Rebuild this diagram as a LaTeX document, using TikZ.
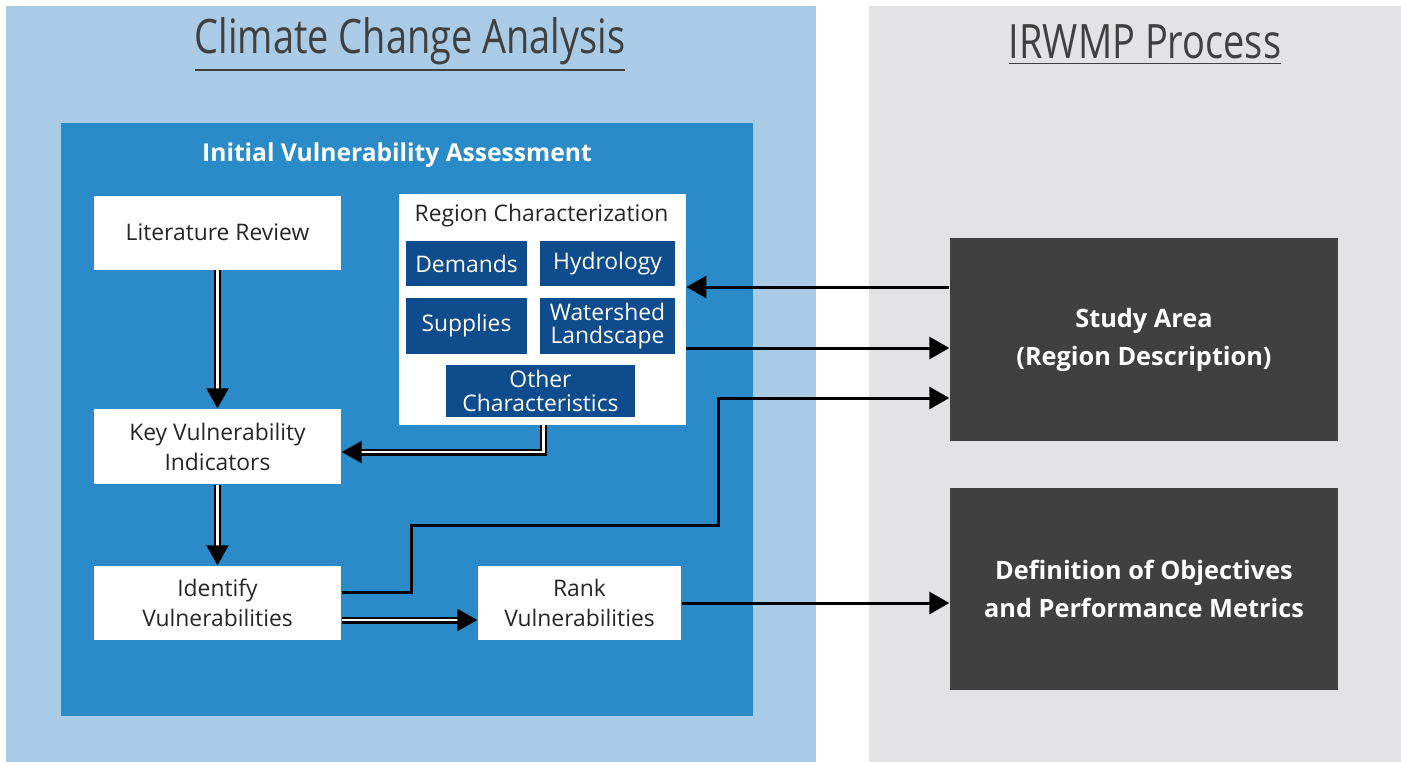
\documentclass[tikz,border=0pt]{standalone}
\usepackage{fontspec}
\setmainfont{Open Sans}
\newfontfamily\ttlfont[FakeStretch=0.8]{Open Sans}
\usepackage{xcolor}
\usetikzlibrary{arrows.meta,positioning,calc}

\definecolor{paleblue}{HTML}{AACBE5}
\definecolor{palegrey}{HTML}{E3E2E5}
\definecolor{midblue}{HTML}{2B8BC9}
\definecolor{rcblue}{HTML}{0F4C8D}
\definecolor{slate}{HTML}{404040}

\begin{document}
\begin{tikzpicture}[
    panel/.style={rectangle,anchor=north west,inner sep=0pt},
    ttl/.style={font=\ttlfont\fontsize{13.5}{16}\selectfont,text=black!75},
    wbox/.style={rectangle,fill=white,minimum width=2.47cm,minimum height=0.74cm,align=center,font=\fontsize{6.5}{8.5}\selectfont,text=black!85,inner sep=1pt},
    sub/.style={rectangle,fill=rcblue,text=white,align=center,font=\fontsize{6.5}{6.8}\selectfont,inner sep=0pt},
    dbox/.style={rectangle,fill=slate,text=white,minimum width=3.88cm,minimum height=2.03cm,align=center,font=\bfseries\fontsize{7.2}{10.8}\selectfont},
    arr/.style={-{Triangle[length=2mm,width=2.2mm]},line width=0.85pt,black},
    dbl/.style={-{Triangle[length=2mm,width=2.2mm]},draw=black,double=white,double distance=0.8pt,line width=0.6pt},
]
\useasboundingbox (0,0) rectangle (14.01,-7.61);

% the two columns
\node[panel,fill=paleblue,minimum width=8.10cm,minimum height=7.56cm] (cca) at (0.05,-0.05) {};
\node[panel,fill=palegrey,minimum width=5.33cm,minimum height=7.56cm] (irwmp) at (8.68,-0.05) {};
\node[ttl] (ccattl) at (4.10,-0.45) {\underline{Climate Change Analysis}};
\node[ttl] (irttl) at (11.45,-0.45) {\underline{IRWMP Process}};

% initial vulnerability assessment
\node[panel,fill=midblue,minimum width=6.92cm,minimum height=5.93cm] (iva) at (0.60,-1.22) {};
\node[text=white,font=\bfseries\fontsize{7}{9}\selectfont] (ivattl) at (3.97,-1.55) {Initial Vulnerability Assessment};

\node[wbox] (lit) at (2.175,-2.325) {Literature Review};
\node[panel,fill=white,minimum width=2.87cm,minimum height=2.31cm] (region) at (3.98,-1.93) {};
\node[font=\fontsize{6.5}{8}\selectfont,text=black!85] (rcttl) at (5.415,-2.16) {Region Characterization};
\node[sub,minimum width=1.21cm,minimum height=0.45cm] (dem) at (4.665,-2.635) {Demands};
\node[sub,minimum width=1.35cm,minimum height=0.45cm] (hyd) at (6.075,-2.635) {Hydrology};
\node[sub,minimum width=1.21cm,minimum height=0.56cm] (sup) at (4.665,-3.26) {Supplies};
\node[sub,minimum width=1.35cm,minimum height=0.56cm] (wsl) at (6.075,-3.26) {Watershed\\Landscape};
\node[sub,minimum width=1.89cm,minimum height=0.52cm] (oth) at (5.405,-3.91) {Other\\Characteristics};

\node[wbox,minimum height=0.75cm] (key) at (2.175,-4.465) {Key Vulnerability\\Indicators};
\node[wbox] (idv) at (2.175,-6.03) {Identify\\Vulnerabilities};
\node[wbox,minimum width=2.03cm] (rank) at (5.795,-6.03) {Rank\\Vulnerabilities};

% IRWMP side
\node[dbox] (study) at (11.44,-3.395) {Study Area\\(Region Description)};
\node[dbox,minimum height=2.02cm] (def) at (11.44,-5.89) {Definition of Objectives\\and Performance Metrics};

\coordinate (stepa) at (4.11,-5.25);
\coordinate (stepb) at (7.18,-3.98);

\draw[dbl] (lit) -- (key);
\draw[dbl] ([xshift=0.015cm]region.south) |- ([yshift=-0.055cm]key.east);
\draw[dbl] (key) -- (idv);
\draw[dbl] ([yshift=-0.17cm]idv.east) -- ([yshift=-0.17cm]rank.west);
\draw[arr] ($(study.west)+(0,0.525)$) -- ($(region.east |- study.west)+(0,0.525)$);
\draw[arr] ($(region.east |- study.west)+(0,-0.085)$) -- ($(study.west)+(0,-0.085)$);
\draw[arr] ($(idv.east)+(0,0.11)$) -| (stepa) -| (stepb) -- (stepb -| study.west);
\draw[arr] (rank.east) -- (rank.east -| def.west);
\end{tikzpicture}
\end{document}
